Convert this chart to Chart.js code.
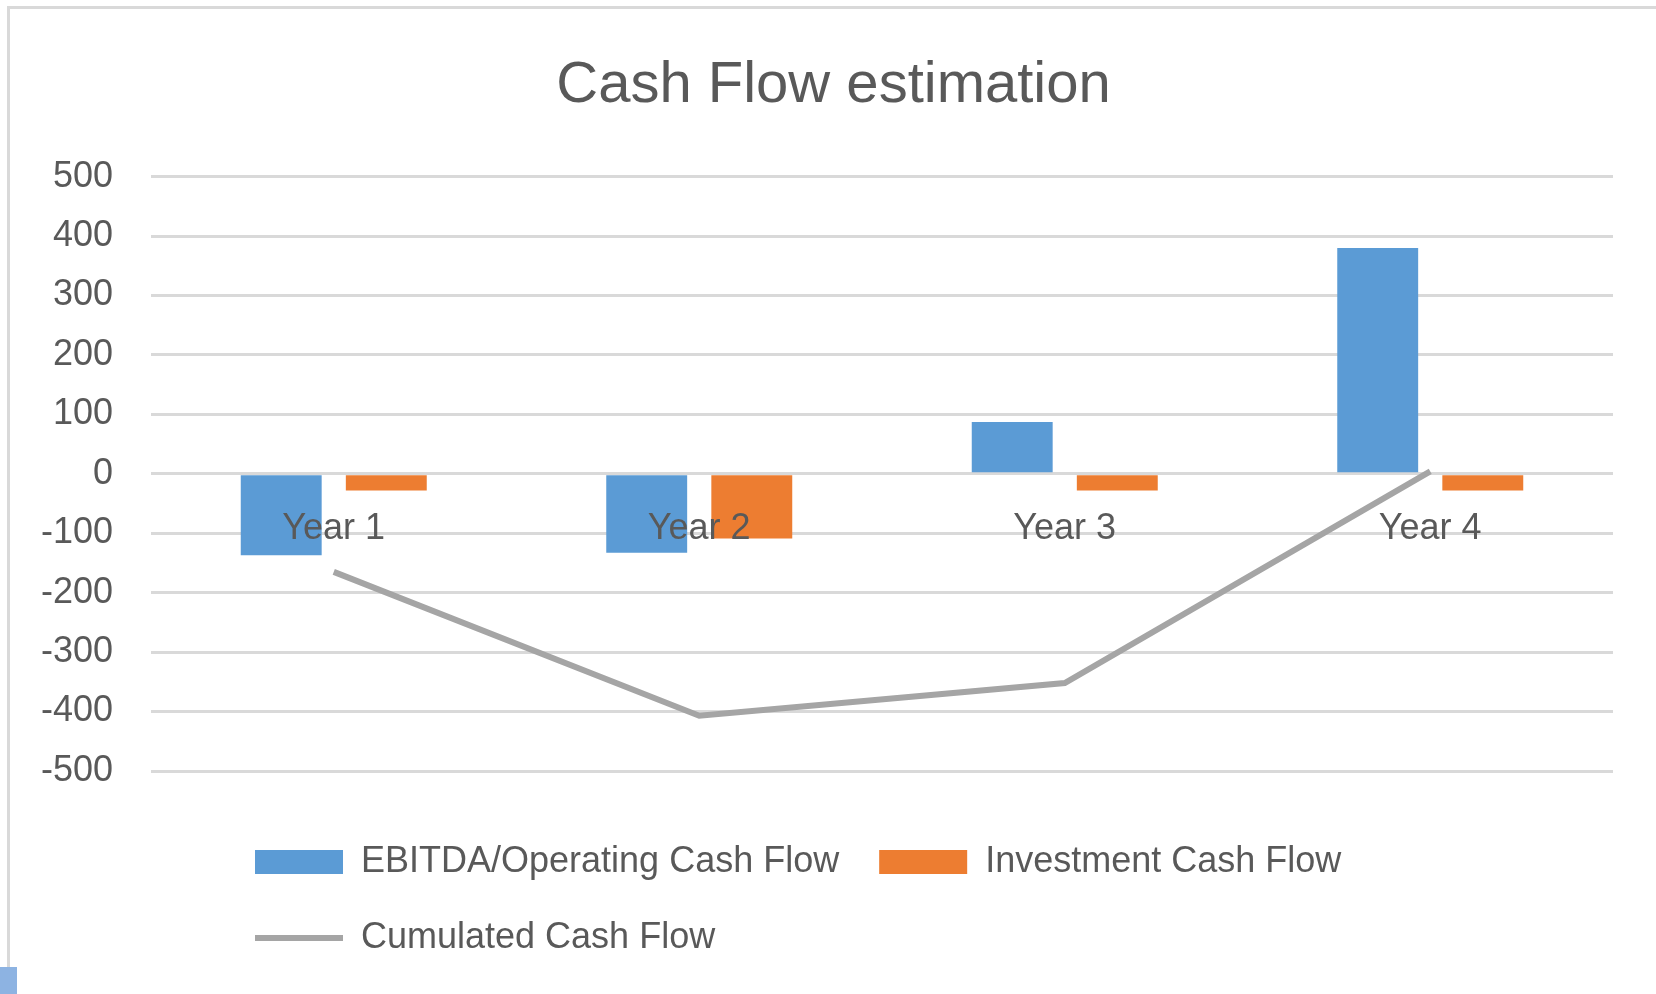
<!DOCTYPE html>
<html>
<head>
<meta charset="utf-8">
<title>Cash Flow estimation</title>
<script src="https://cdn.jsdelivr.net/npm/chart.js@4.4.1/dist/chart.umd.min.js"></script>
<style>
  html, body { margin: 0; padding: 0; background: #fff; }
  #frame { position: absolute; left: 7px; top: 6px; right: 0; height: 961px; border-top: 3px solid #d9d9d9; border-left: 3px solid #d9d9d9; }
  #corner { position: absolute; left: 0; top: 967px; width: 17px; height: 27px; background: #8db3e2; }
  #chart-box { position: absolute; left: 0; top: 0; width: 1656px; height: 994px; }
</style>
</head>
<body>
<div id="frame"></div>
<div id="corner"></div>
<div id="chart-box"><canvas id="cash-flow"></canvas></div>
<script>
// -------------------------------------------
//  DATA
// -------------------------------------------

const years = ["Year 1", "Year 2", "Year 3", "Year 4"]
const operatingCash = [-137, -133, 87, 380]
const investmentCash = [-28, -109, -28, -28]
const cumulatedCash = [-165, -407, -352, 4]
const yTicks = [-500, -400, -300, -200, -100, 0, 100, 200, 300, 400, 500]

// -------------------------------------------
//  CHART
// -------------------------------------------

const textColor = "#595959"
Chart.defaults.font.family = "'Liberation Sans', Arial, sans-serif"
Chart.defaults.color = textColor

// Excel puts the title on the centre of the whole frame and starts the
// legend rows under the first bar group, so nudge both boxes a bit
const boxOffset = {
    id: "boxOffset",
    afterLayout(chart) {
        const t = chart.titleBlock
        if (t) {
            t.left += 27
            t.right += 27
        }
        const lg = chart.legend
        if (lg) {
            lg.left += 64
            lg.right += 64
            lg.top += 33
            lg.bottom += 33
        }
    }
}

new Chart(document.getElementById("cash-flow"), {
    type: "bar",
    data: {
        labels: years,
        datasets: [
            { label: "EBITDA/Operating Cash Flow", data: operatingCash, backgroundColor: "#5b9bd5", pointStyle: "rect", order: 1, categoryPercentage: 0.575, barPercentage: 0.77 },
            { label: "Investment Cash Flow", data: investmentCash, backgroundColor: "#ed7d31", pointStyle: "rect", order: 1, categoryPercentage: 0.575, barPercentage: 0.77 },
            { type: "line", label: "Cumulated Cash Flow", data: cumulatedCash, borderColor: "#a5a5a5", backgroundColor: "#a5a5a5", borderWidth: 6, pointRadius: 0, pointStyle: "line", tension: 0, fill: false, order: 0 }
        ]
    },
    options: {
        responsive: true,
        maintainAspectRatio: false,
        animation: false,
        layout: { padding: { left: 0, right: 43, top: 0, bottom: 61 } },
        plugins: {
            title: {
                display: true,
                text: "Cash Flow estimation",
                color: textColor,
                font: { size: 58, weight: "normal" },
                padding: { top: 51, bottom: 56 }
            },
            legend: {
                position: "bottom",
                align: "start",
                fullSize: false,
                labels: {
                    usePointStyle: true,
                    pointStyleWidth: 88,
                    boxHeight: 24,
                    padding: 40,
                    color: textColor,
                    font: { size: 36 },
                    sort: function(a, b) { return a.datasetIndex - b.datasetIndex }
                }
            },
            tooltip: { enabled: false }
        },
        scales: {
            x: {
                position: { y: 0 },
                grid: { display: false },
                border: { display: false },
                ticks: { color: textColor, font: { size: 36 }, padding: 26, z: 1, maxRotation: 0, autoSkip: false }
            },
            y: {
                min: yTicks[0],
                max: yTicks[yTicks.length - 1],
                grid: { color: "#d9d9d9", lineWidth: 3, drawTicks: false },
                border: { display: false },
                ticks: { stepSize: yTicks[1] - yTicks[0], padding: 38, color: textColor, font: { size: 36 } },
                afterFit: function(scale) { scale.width = 151 }
            }
        }
    },
    plugins: [boxOffset]
})
</script>
</body>
</html>
